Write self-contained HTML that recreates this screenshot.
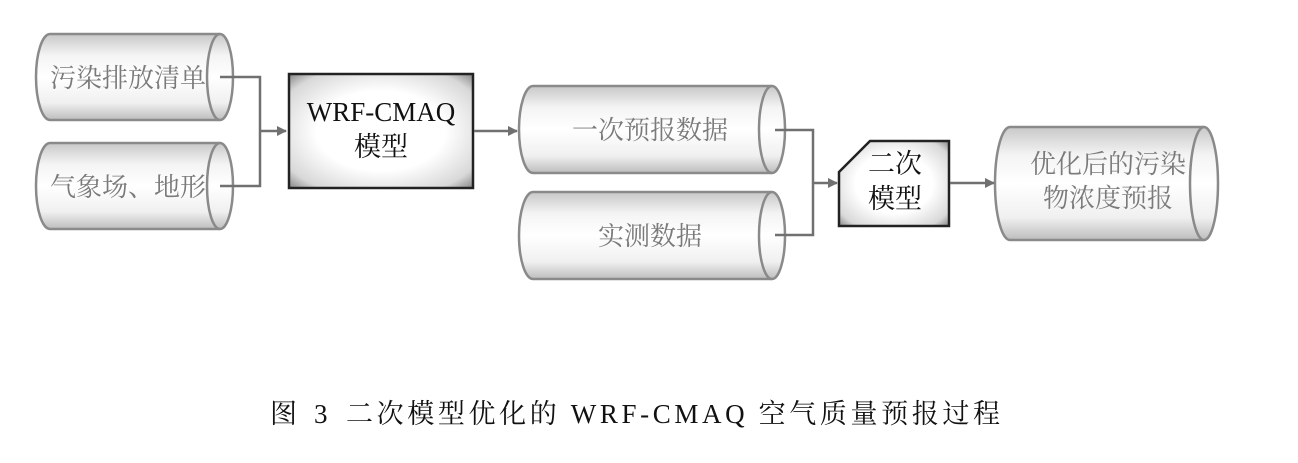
<!DOCTYPE html>
<html><head><meta charset="utf-8"><style>
body{margin:0;background:#fff;}
svg text{font-family:"Liberation Serif","Noto Serif CJK SC","Noto Sans CJK SC",serif;}
</style></head><body>
<svg width="1298" height="458" viewBox="0 0 1298 458" xmlns="http://www.w3.org/2000/svg">
<defs>
<linearGradient id="cyl" x1="0" y1="0" x2="0" y2="1">
<stop offset="0" stop-color="#c8c8c8"/><stop offset="0.25" stop-color="#f4f4f4"/><stop offset="0.5" stop-color="#ffffff"/><stop offset="0.8" stop-color="#f0f0f0"/><stop offset="1" stop-color="#bdbdbd"/>
</linearGradient>
<radialGradient id="box" cx="0.5" cy="0.5" r="0.7">
<stop offset="0.5" stop-color="#ffffff"/><stop offset="0.85" stop-color="#d8d8d8"/><stop offset="1" stop-color="#8a8a8a"/>
</radialGradient>
<marker id="ar" markerWidth="10" markerHeight="10" refX="9" refY="5" orient="auto" markerUnits="userSpaceOnUse">
<path d="M0,0 L10,5 L0,10 z" fill="#707070"/></marker>
</defs>
<g stroke="#8a8a8a" stroke-width="2.5">
<path d="M50,34 H220 A13,43 0 0 1 220,120 H50 A14,43 0 0 1 50,34 Z" fill="url(#cyl)"/>
<path d="M220,34 A13,43 0 0 0 220,120" fill="none"/>
<path d="M50,143 H220 A13,43 0 0 1 220,229 H50 A14,43 0 0 1 50,143 Z" fill="url(#cyl)"/>
<path d="M220,143 A13,43 0 0 0 220,229" fill="none"/>
<path d="M533,86 H772 A13,43.5 0 0 1 772,173 H533 A14,43.5 0 0 1 533,86 Z" fill="url(#cyl)"/>
<path d="M772,86 A13,43.5 0 0 0 772,173" fill="none"/>
<path d="M533,192 H772 A13,43.5 0 0 1 772,279 H533 A14,43.5 0 0 1 533,192 Z" fill="url(#cyl)"/>
<path d="M772,192 A13,43.5 0 0 0 772,279" fill="none"/>
<path d="M1010,127 H1204 A14,56.5 0 0 1 1204,240 H1010 A15,56.5 0 0 1 1010,127 Z" fill="url(#cyl)"/>
<path d="M1204,127 A14,56.5 0 0 0 1204,240" fill="none"/>
</g>
<rect x="289" y="74" width="184" height="114" fill="url(#box)" stroke="#222" stroke-width="2.5"/>
<path d="M870,141 H949 V226 H839 V172 Z" fill="url(#box)" stroke="#222" stroke-width="2.5"/>
<g stroke="#707070" stroke-width="2.5" fill="none">
<path d="M220,77 H260 V186 H220"/>
<path d="M260,131 H286" marker-end="url(#ar)"/>
<path d="M474,131 H517" marker-end="url(#ar)"/>
<path d="M775,130 H813 V235 H775"/>
<path d="M813,183 H837" marker-end="url(#ar)"/>
<path d="M950,183 H994" marker-end="url(#ar)"/>
</g>
<g fill="#7a7a7a" font-size="26" text-anchor="middle">
<text x="128" y="87">污染排放清单</text>
<text x="128" y="196">气象场、地形</text>
<text x="650" y="139">一次预报数据</text>
<text x="650" y="245">实测数据</text>
<text x="1108" y="173">优化后的污染</text>
<text x="1108" y="207">物浓度预报</text>
</g>
<g fill="#111" font-size="27" text-anchor="middle">
<text x="381" y="121">WRF-CMAQ</text>
<text x="381" y="156">模型</text>
<text x="895" y="173">二次</text>
<text x="895" y="208">模型</text>
</g>
<g font-size="27" fill="#111">
<text x="270" y="423">图</text>
<text x="314" y="423">3</text>
<text x="346" y="423" textLength="654" lengthAdjust="spacing">二次模型优化的 WRF-CMAQ 空气质量预报过程</text>
</g>
</svg>
</body></html>
